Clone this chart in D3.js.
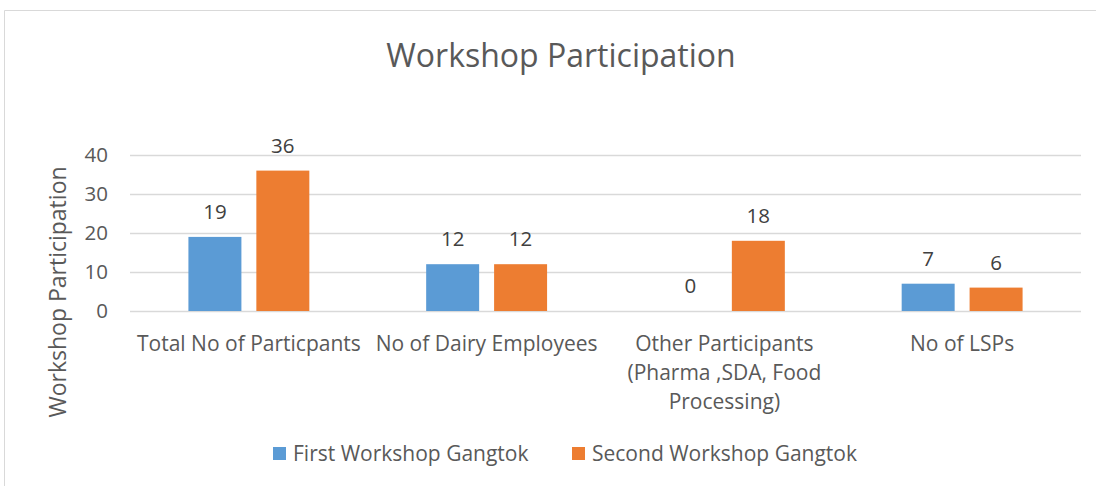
<!DOCTYPE html>
<html>
<head>
<meta charset="utf-8">
<script src="https://cdn.jsdelivr.net/npm/d3@7"></script>
<style>
    body { margin:0; background:#fff; }
    svg { display:block; font-family:"Open Sans", sans-serif; }
</style>
</head>
<body>
<svg id="chart"></svg>
<script>
const categories = ["Total No of Particpants", "No of Dairy Employees", "Other Participants\n(Pharma ,SDA, Food\nProcessing)", "No of LSPs"];
const seriesNames = ["First Workshop Gangtok", "Second Workshop Gangtok"];
const firstWorkshop = [19, 12, 0, 7];
const secondWorkshop = [36, 12, 18, 6];
const yTicks = [0, 10, 20, 30, 40];

const colors = ["#5B9BD5", "#ED7D31"];
const textColor = "#595959";

const width = 1096, height = 486;
const padding = { left:130, right:15, top:155, bottom:175 };

const svg = d3.select("#chart").attr("width", width).attr("height", height);

// chart frame (only top and left edges are in view)
svg.append("path")
    .attr("d", `M4.5,${height} V10.5 H${width}`)
    .attr("fill", "none").attr("stroke", "#D9D9D9");

const innerWidth = width - padding.left - padding.right;
const innerHeight = height - padding.top - padding.bottom;

const x0 = d3.scaleBand().domain(categories).range([padding.left, padding.left + innerWidth]);
const x1 = d3.scaleBand().domain(seriesNames).range([0, x0.bandwidth()])
    .paddingInner(0.22).paddingOuter(0.86);
const y = d3.scaleLinear().domain([0, 40]).range([padding.top + innerHeight, padding.top]);

// title
svg.append("text")
    .attr("x", 561).attr("y", 67)
    .attr("text-anchor", "middle")
    .attr("fill", textColor)
    .style("font-size", "32px")
    .text("Workshop Participation");

// gridlines
svg.append("g")
    .selectAll("line")
    .data(yTicks)
    .join("line")
    .attr("x1", padding.left).attr("x2", padding.left + innerWidth)
    .attr("y1", d => Math.round(y(d)) + 0.5).attr("y2", d => Math.round(y(d)) + 0.5)
    .attr("stroke", "#D9D9D9").attr("stroke-width", 1.3);

// y axis
const yAxis = svg.append("g")
    .attr("transform", `translate(${padding.left - 22},0)`)
    .call(d3.axisLeft(y).tickValues(yTicks).tickSize(0).tickPadding(0));
yAxis.select(".domain").remove();
yAxis.selectAll("text").attr("fill", textColor).style("font-size", "20.5px")
    .style("font-family", "'Open Sans', sans-serif");

svg.append("text")
    .attr("transform", `translate(66,${292}) rotate(-90)`)
    .attr("text-anchor", "middle")
    .attr("fill", textColor)
    .style("font-size", "23px")
    .text("Workshop Participation");

// x axis labels
const xAxis = svg.append("g")
    .attr("transform", `translate(0,${padding.top + innerHeight})`)
    .call(d3.axisBottom(x0).tickSize(0).tickPadding(0));
xAxis.select(".domain").remove();
xAxis.selectAll("text").each(function(d) {
    const t = d3.select(this).text(null)
        .attr("fill", textColor).attr("y", 0).attr("dy", null)
        .style("font-size", "21px").style("font-family", "'Open Sans', sans-serif");
    d.split("\n").forEach((line, i) => {
        t.append("tspan").attr("x", 0).attr("y", 40 + i * 29).text(line);
    });
});

// bars
const rows = categories.map((c, i) => ({ category: c, values: [firstWorkshop[i], secondWorkshop[i]] }));
const groups = svg.append("g").selectAll("g")
    .data(rows)
    .join("g")
    .attr("transform", d => `translate(${x0(d.category)},0)`);

groups.selectAll("rect")
    .data(d => d.values.map((v, i) => ({ name: seriesNames[i], value: v, i })))
    .join("rect")
    .attr("x", d => x1(d.name))
    .attr("y", d => y(d.value))
    .attr("width", x1.bandwidth())
    .attr("height", d => y(0) - y(d.value))
    .attr("fill", d => colors[d.i]);

groups.selectAll("text.value")
    .data(d => d.values.map((v, i) => ({ name: seriesNames[i], value: v, i })))
    .join("text")
    .attr("class", "value")
    .attr("x", d => x1(d.name) + x1.bandwidth() / 2)
    .attr("y", d => y(d.value) - 18)
    .attr("text-anchor", "middle")
    .attr("fill", "#404040")
    .style("font-size", "20.5px")
    .text(d => d.value);

// legend
const legendX = [273, 572];
const legend = svg.append("g").selectAll("g")
    .data(seriesNames)
    .join("g")
    .attr("transform", (d, i) => `translate(${legendX[i]},447)`);
legend.append("rect").attr("width", 13).attr("height", 13).attr("fill", (d, i) => colors[i]);
legend.append("text")
    .attr("x", 20).attr("y", 14)
    .attr("fill", textColor)
    .style("font-size", "21px")
    .text(d => d);
</script>
</body>
</html>
